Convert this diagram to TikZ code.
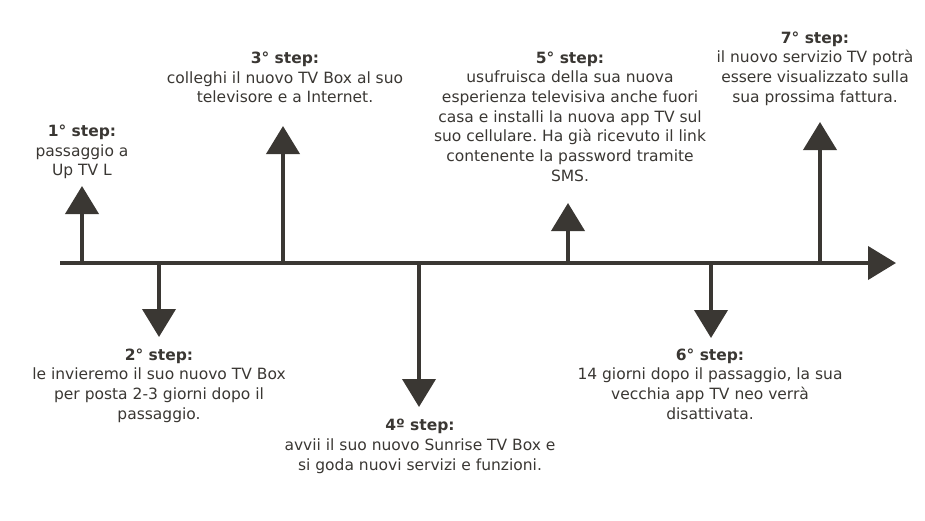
\documentclass[tikz,border=0pt]{standalone}
\usepackage{fontspec}
\setmainfont{DejaVu Sans}
\usetikzlibrary{arrows.meta}
\definecolor{ink}{HTML}{3A3733}
\frenchspacing
\begin{document}
\begin{tikzpicture}[x=1pt,y=-1pt,
  axis/.style={line width=4pt,draw=ink,-{Triangle[length=28pt,width=33pt]}},
  stem/.style={line width=4pt,draw=ink,-{Triangle[length=28pt,width=33pt]}},
  txt/.style={align=center,inner sep=0pt,text=ink,font=\fontsize{15.5}{19.7}\selectfont}]
\useasboundingbox (0,0) rectangle (925,520);
% axis
\coordinate (start) at (60,263);
\coordinate (end) at (896,263);
\draw[axis] (start) -- (end);
% base points and tips
\coordinate (b1) at (82,263);  \coordinate (t1) at (82,186);
\coordinate (b2) at (159,263); \coordinate (t2) at (159,337);
\coordinate (b3) at (283,263); \coordinate (t3) at (283,126);
\coordinate (b4) at (419,263); \coordinate (t4) at (419,407);
\coordinate (b5) at (568,263); \coordinate (t5) at (568,203);
\coordinate (b6) at (711,263); \coordinate (t6) at (711,338);
\coordinate (b7) at (820,263); \coordinate (t7) at (820,122);
\foreach \i in {1,...,7}{\draw[stem] (b\i) -- (t\i);}
% labels
\node[txt] (s1) at (82,152) {\textbf{1° step:}\\passaggio a\\Up TV L};
\node[txt] (s2) at (159,385.5) {\textbf{2° step:}\\le invieremo il suo nuovo TV Box\\per posta 2-3 giorni dopo il\\passaggio.};
\node[txt] (s3) at (285,77.5) {\textbf{3° step:}\\colleghi il nuovo TV Box al suo\\televisore e a Internet.};
\node[txt] (s4) at (420,446.5) {\textbf{4º step:}\\avvii il suo nuovo Sunrise TV Box e\\si goda nuovi servizi e funzioni.};
\node[txt] (s5) at (570,116.5) {\textbf{5° step:}\\usufruisca della sua nuova\\esperienza televisiva anche fuori\\casa e installi la nuova app TV sul\\suo cellulare. Ha già ricevuto il link\\contenente la password tramite\\SMS.};
\node[txt] (s6) at (710,384) {\textbf{6° step:}\\14 giorni dopo il passaggio, la sua\\vecchia app TV neo verrà\\disattivata.};
\node[txt] (s7) at (815,68.5) {\textbf{7° step:}\\il nuovo servizio TV potrà\\essere visualizzato sulla\\sua prossima fattura.};
\end{tikzpicture}
\end{document}
